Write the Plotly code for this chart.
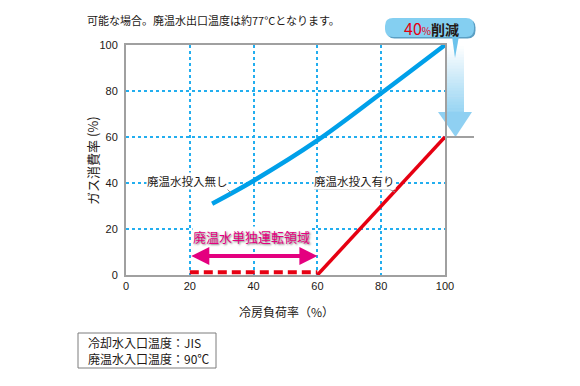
import plotly.graph_objects as go

# ---- data ----
load_without = [27, 40, 60, 80, 100]
gas_without = [31, 41, 58.5, 79, 100]
load_with = [60, 100]
gas_with = [0, 60]
load_solo = [20, 60]
gas_solo = [1.2, 1.2]
tick_vals = [0, 20, 40, 60, 80, 100]
tick_text = ["0", "20", "40", "60", "80", "100"]

OFF = 8  # page body margin
W, H = 580 - OFF, 386 - OFF
# plot area in page pixels
PL, PR, PT, PB = 126, 445, 45, 275
L, R, T, B = PL - OFF, PR - OFF, PT - OFF, PB - OFF

def fx(px):
    return (px - PL) / (PR - PL)

def fy(py):
    return (PB - py) / (PB - PT)

JP = "Noto Sans CJK JP"
NUM = "Liberation Sans, Arial, sans-serif"
DARK = "#231815"
GRID = "#22aeef"
AXIS = "#a0a0a0"

fig = go.Figure()
fig.add_trace(go.Scatter(x=load_without, y=gas_without, mode="lines",
                         line=dict(color="#00a0e9", width=4.5, shape="spline"),
                         hoverinfo="skip", showlegend=False))
fig.add_trace(go.Scatter(x=load_with, y=gas_with, mode="lines",
                         line=dict(color="#e60012", width=3.5),
                         hoverinfo="skip", showlegend=False))
fig.add_trace(go.Scatter(x=load_solo, y=gas_solo, mode="lines",
                         line=dict(color="#e60012", width=4, dash="9px,5px"),
                         hoverinfo="skip", showlegend=False))

shapes = []
annotations = []

def ann(x, y, text, size=12, color=DARK, xanchor="center", yanchor="middle", font_extra=None, **kw):
    font = dict(family=JP, size=size, color=color)
    if font_extra:
        font.update(font_extra)
    annotations.append(dict(xref="paper", yref="paper", x=fx(x), y=fy(y), text=text,
                            showarrow=False, xanchor=xanchor, yanchor=yanchor, font=font, **kw))

# gradient down arrow (stacked bands)
n = 24
y0, y1 = 46, 113
c_top = (255, 255, 255)
c_bot = (150, 212, 243)
for i in range(n):
    a = y0 + (y1 - y0) * i / n
    b = y0 + (y1 - y0) * (i + 1) / n + 0.5
    t = (i + 0.5) / n
    col = tuple(int(c_top[k] + (c_bot[k] - c_top[k]) * t) for k in range(3))
    shapes.append(dict(type="rect", xref="paper", yref="paper",
                       x0=fx(447), x1=fx(464), y0=fy(b), y1=fy(a),
                       fillcolor="rgb(%d,%d,%d)" % col, line=dict(width=0), layer="below"))
shapes.append(dict(type="path", xref="paper", yref="paper",
                   path="M %f %f L %f %f L %f %f Z" % (fx(438), fy(112), fx(472), fy(112), fx(455.5), fy(137)),
                   fillcolor="#8fd0f2", line=dict(width=0), layer="below"))
# ledge at 60
shapes.append(dict(type="line", xref="paper", yref="paper",
                   x0=fx(445), x1=fx(474), y0=fy(137), y1=fy(137),
                   line=dict(color=AXIS, width=2)))

# bubble
def rrect(x0, y0, x1, y1, r):
    return ("M %f %f L %f %f Q %f %f %f %f L %f %f Q %f %f %f %f L %f %f Q %f %f %f %f L %f %f Q %f %f %f %f Z" % (
        fx(x0 + r), fy(y0), fx(x1 - r), fy(y0), fx(x1), fy(y0), fx(x1), fy(y0 + r),
        fx(x1), fy(y1 - r), fx(x1), fy(y1), fx(x1 - r), fy(y1),
        fx(x0 + r), fy(y1), fx(x0), fy(y1), fx(x0), fy(y1 - r),
        fx(x0), fy(y0 + r), fx(x0), fy(y0), fx(x0 + r), fy(y0)))

shapes.append(dict(type="path", xref="paper", yref="paper", path=rrect(386.5, 19.5, 475.5, 38.5, 8),
                   fillcolor="#5a9fc4", line=dict(width=0)))
shapes.append(dict(type="path", xref="paper", yref="paper", path=rrect(385, 18, 474, 37, 8),
                   fillcolor="#84cff1", line=dict(width=0)))
shapes.append(dict(type="path", xref="paper", yref="paper",
                   path="M %f %f L %f %f L %f %f Z" % (fx(452), fy(36), fx(459), fy(36), fx(455), fy(58)),
                   fillcolor="#6cc3ec", line=dict(width=0)))
ann(431, 27.5, "<span style='color:#e60012;font-size:16px'>40</span><span style='color:#e60012;font-size:10px'>%</span><b>削減</b>", size=14)

# leader lines
shapes.append(dict(type="path", xref="paper", yref="paper",
                   path="M %f %f L %f %f L %f %f" % (fx(147), fy(188), fx(226), fy(188), fx(231), fy(193)),
                   line=dict(color="#8c8c8c", width=1)))
shapes.append(dict(type="path", xref="paper", yref="paper",
                   path="M %f %f L %f %f L %f %f" % (fx(314), fy(189), fx(389), fy(189), fx(395), fy(192)),
                   line=dict(color="#8c8c8c", width=1)))
ann(146, 180.5, "廃温水投入無し", size=11.5, xanchor="left", bgcolor="white", borderpad=0)
ann(313, 180.5, "廃温水投入有り", size=11.5, xanchor="left", bgcolor="white", borderpad=0)

# solo operation region
ann(251, 236.5, "廃温水単独運転領域", size=13, color="#e4007f", bgcolor="white", borderpad=0,
    font_extra=dict(shadow="1px 1px 2px #777"))
annotations.append(dict(x=load_solo[1], y=8.3, ax=load_solo[0], ay=8.3, axref="x", ayref="y",
                        xref="x", yref="y", text="", showarrow=True, arrowside="end+start",
                        arrowhead=2, arrowsize=0.9, arrowwidth=4, arrowcolor="#e4007f", standoff=0,
                        startstandoff=0))

# titles
ann(85, 20, "可能な場合。廃温水出口温度は約77°Cとなります。", size=11, xanchor="left")
ann(286, 311, "冷房負荷率（%）")
ann(92, 161, "ガス消費率 (%)", size=13, textangle=-90)

# condition box
shapes.append(dict(type="rect", xref="paper", yref="paper", x0=fx(78), x1=fx(216), y0=fy(368), y1=fy(333),
                   line=dict(color="#7d7d7d", width=1), fillcolor="white"))
ann(86, 350.5, "冷却水入口温度：JIS<br>廃温水入口温度：90℃", size=12, xanchor="left", align="left")

axis_common = dict(range=[0, 100], tickvals=tick_vals, ticktext=tick_text, showgrid=True,
                   gridcolor=GRID, griddash="dot", gridwidth=1.5, zeroline=False,
                   showline=True, linecolor=AXIS, linewidth=2, mirror=True, ticks="",
                   tickfont=dict(family=NUM, size=11, color=DARK), fixedrange=True)

fig.update_layout(
    template="none",
    width=W, height=H,
    margin=dict(l=L, r=W - R, t=T, b=H - B, autoexpand=False),
    paper_bgcolor="white", plot_bgcolor="white",
    xaxis=dict(**axis_common),
    yaxis=dict(**axis_common, ticklabelstandoff=4),
    shapes=shapes, annotations=annotations, showlegend=False,
)

fig.write_html("out.html")
